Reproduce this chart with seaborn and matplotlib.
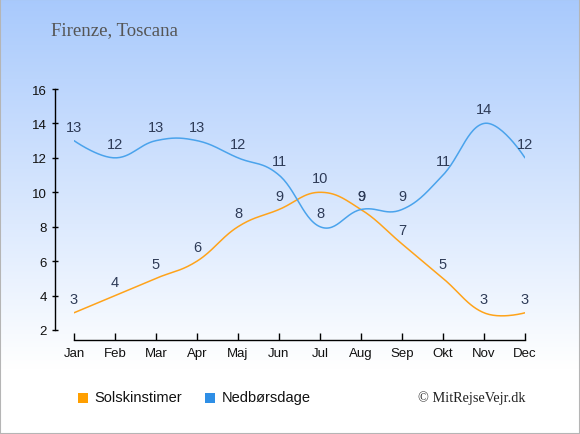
import numpy as np
import pandas as pd
import matplotlib
matplotlib.use("Agg")
import matplotlib.pyplot as plt
import seaborn as sns
from matplotlib.patches import Rectangle

months = ["Jan", "Feb", "Mar", "Apr", "Maj", "Jun", "Jul", "Aug", "Sep", "Okt", "Nov", "Dec"]
sun_hours = [3, 4, 5, 6, 8, 9, 10, 9, 7, 5, 3, 3]
rain_days = [13, 12, 13, 13, 12, 11, 8, 9, 9, 11, 14, 12]
y_ticks = [2, 4, 6, 8, 10, 12, 14, 16]

ORANGE = "#ffa31a"
BLUE = "#4aa3ec"
LABEL = "#2e3b57"


# smooth spline through the points (bezier segments, no clamping)
def spline(xs, ys, smoothing=1.5, n=30):
    xs = np.asarray(xs, float)
    ys = np.asarray(ys, float)
    m = len(xs)
    left = [(xs[i], ys[i]) for i in range(m)]
    right = [(xs[i], ys[i]) for i in range(m)]
    d = smoothing + 1
    for i in range(1, m - 1):
        px, py = xs[i], ys[i]
        lx, ly = xs[i - 1], ys[i - 1]
        nx, ny = xs[i + 1], ys[i + 1]
        lcx = (smoothing * px + lx) / d
        lcy = (smoothing * py + ly) / d
        rcx = (smoothing * px + nx) / d
        rcy = (smoothing * py + ny) / d
        if rcx != lcx:
            corr = (rcy - lcy) * (rcx - px) / (rcx - lcx) + py - rcy
            lcy += corr
            rcy += corr
        left[i] = (lcx, lcy)
        right[i] = (rcx, rcy)
    t = np.linspace(0, 1, n)
    ox, oy = [], []
    for i in range(m - 1):
        p0 = np.array([xs[i], ys[i]])
        p1 = np.array(right[i])
        p2 = np.array(left[i + 1])
        p3 = np.array([xs[i + 1], ys[i + 1]])
        pts = ((1 - t) ** 3)[:, None] * p0 + (3 * (1 - t) ** 2 * t)[:, None] * p1 \
            + (3 * (1 - t) * t ** 2)[:, None] * p2 + (t ** 3)[:, None] * p3
        ox.extend(pts[:, 0])
        oy.extend(pts[:, 1])
    return np.array(ox), np.array(oy)


sns.set_theme(style="white")
plt.rcParams["font.family"] = ["Liberation Sans", "DejaVu Sans"]

W, H = 580, 435
fig = plt.figure(figsize=(W / 100, H / 100), dpi=100)

# gradient background
bg = fig.add_axes([0, 0, 1, 1], zorder=-10)
grad = np.linspace(0, 1, 256)[:, None]
top = np.array([0.66, 0.79, 0.99])
bot = np.array([1.0, 1.0, 1.0])
fade = np.clip(grad / 0.85, 0, 1)
img = top[None, None, :] * (1 - fade[:, :, None]) + bot[None, None, :] * fade[:, :, None]
bg.imshow(img, aspect="auto", extent=[0, 1, 0, 1], origin="upper")
bg.add_patch(Rectangle((0, 0), 1, 1, fill=False, edgecolor="#b5b5b5", lw=1.5, transform=bg.transAxes))
bg.set_axis_off()

# plot area: Jan at x=74, Dec at x=525, y=16 at 90, y=2 at 331
x0, x1 = 74, 525
yt, yb = 90, 331
ax = fig.add_axes([x0 / W, 1 - yb / H, (x1 - x0) / W, (yb - yt) / H])
ax.patch.set_alpha(0)

idx = np.arange(len(months))
sx, sy = spline(idx, sun_hours)
rx, ry = spline(idx, rain_days)
sns.lineplot(x=sx, y=sy, ax=ax, color=ORANGE, lw=1.1, sort=False, estimator=None)
sns.lineplot(x=rx, y=ry, ax=ax, color=BLUE, lw=1.1, sort=False, estimator=None)

for i in idx:
    ax.annotate(str(sun_hours[i]), (i, sun_hours[i]), xytext=(0, 5), textcoords="offset points",
                ha="center", va="bottom", fontsize=10.5, color=LABEL)
    ax.annotate(str(rain_days[i]), (i, rain_days[i]), xytext=(0, 5), textcoords="offset points",
                ha="center", va="bottom", fontsize=10.5, color=LABEL)

ax.set_xlim(0, 11)
ax.set_ylim(2, 16)
ax.set_xticks(idx)
ax.set_xticklabels(months)
ax.set_yticks(y_ticks)
ax.tick_params(axis="x", bottom=True, direction="in", length=5, width=1, color="black",
               labelsize=9.5, pad=5, labelcolor="#111111")
ax.tick_params(axis="y", left=True, direction="inout", length=5, width=1, color="black",
               labelsize=9.5, pad=3, labelcolor="#111111")
for s in ["top", "right"]:
    ax.spines[s].set_visible(False)
ax.spines["left"].set_position(("outward", 14))
ax.spines["bottom"].set_position(("outward", 7.5))
ax.spines["left"].set_color("black")
ax.spines["bottom"].set_color("black")
ax.spines["left"].set_linewidth(1)
ax.spines["bottom"].set_linewidth(1)
ax.set_xlabel("")
ax.set_ylabel("")

# title
fig.text(51 / W, 1 - 31 / H, "Firenze, Toscana", fontsize=13.5, color="#555555",
         family=["Liberation Serif", "DejaVu Serif"], va="center", ha="left")

# legend
fig.patches.append(Rectangle((78 / W, 1 - 404 / H), 10 / W, 10 / H, transform=fig.transFigure,
                             facecolor="#ff9f00", edgecolor="none"))
fig.text(94 / W, 1 - 398 / H, "Solskinstimer", fontsize=10.5, color="#111111", va="center", ha="left")
fig.patches.append(Rectangle((205 / W, 1 - 404 / H), 10 / W, 10 / H, transform=fig.transFigure,
                             facecolor="#2f8fe6", edgecolor="none"))
fig.text(222 / W, 1 - 398 / H, "Nedbørsdage", fontsize=10.5, color="#111111", va="center", ha="left")
fig.text(526 / W, 1 - 398 / H, "© MitRejseVejr.dk", fontsize=10.3, color="#222222",
         family=["Liberation Serif", "DejaVu Serif"], va="center", ha="right")

fig.savefig("out.png", dpi=100)
